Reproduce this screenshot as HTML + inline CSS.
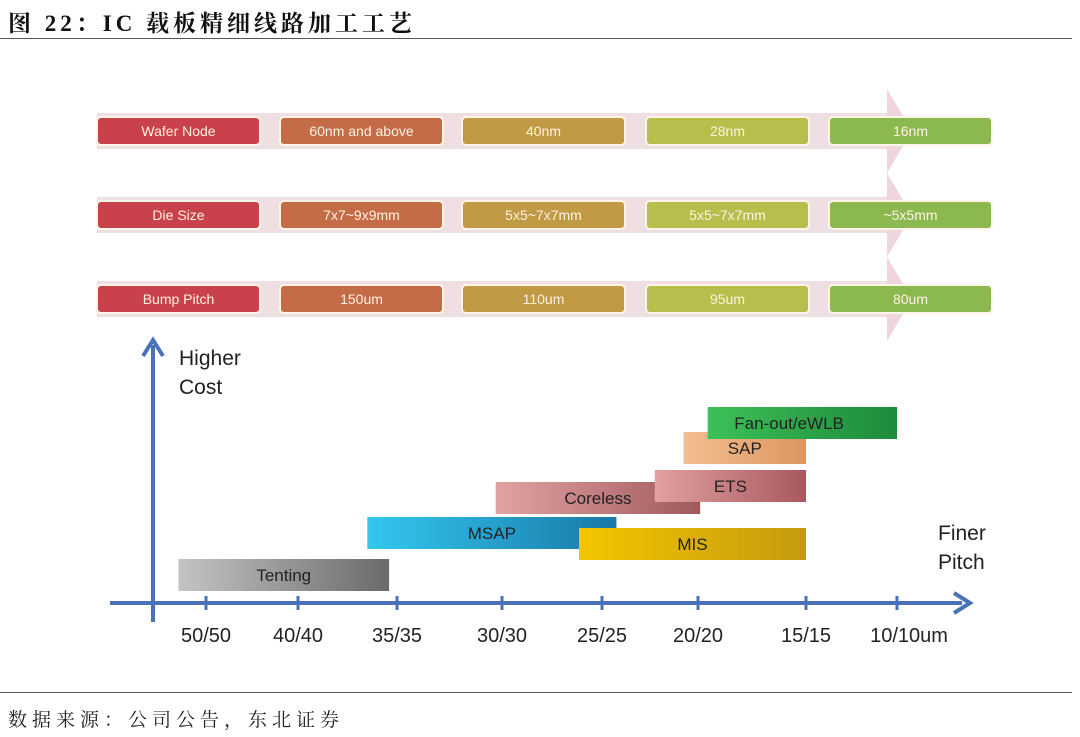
<!DOCTYPE html>
<html><head><meta charset="utf-8"><style>
body{margin:0;width:1080px;height:737px;background:#fff;overflow:hidden;font-family:"Liberation Sans",sans-serif}
.title{position:absolute;left:8px;top:5px;font:bold 23px "Liberation Serif","Noto Serif CJK SC",serif;letter-spacing:4px;color:#111}
.line{position:absolute;left:0;width:1072px;height:1px;background:#555}
.src{position:absolute;left:8px;top:705px;font:19px "Liberation Serif","Noto Serif CJK SC",serif;letter-spacing:5px;color:#222}
</style></head><body>
<div class="title">图 22：IC 载板精细线路加工工艺</div>
<div class="line" style="top:38px"></div>
<svg width="1080" height="737" style="position:absolute;left:0;top:0" id="chart">
<defs>
<linearGradient id="gT"><stop offset="0" stop-color="#c4c4c4"/><stop offset="1" stop-color="#6a6a6a"/></linearGradient>
<linearGradient id="gM"><stop offset="0" stop-color="#33c8ee"/><stop offset="1" stop-color="#1a78a8"/></linearGradient>
<linearGradient id="gC"><stop offset="0" stop-color="#e2a3a3"/><stop offset="1" stop-color="#a0585c"/></linearGradient>
<linearGradient id="gI"><stop offset="0" stop-color="#f5c500"/><stop offset="1" stop-color="#c49a10"/></linearGradient>
<linearGradient id="gE"><stop offset="0" stop-color="#e2a0a0"/><stop offset="1" stop-color="#a8585e"/></linearGradient>
<linearGradient id="gS"><stop offset="0" stop-color="#f3be90"/><stop offset="1" stop-color="#dc9660"/></linearGradient>
<linearGradient id="gF"><stop offset="0" stop-color="#3cc058"/><stop offset="1" stop-color="#1e8a3a"/></linearGradient>
</defs>
</svg>
<div class="line" style="top:692px"></div>
<div class="src">数据来源：公司公告，东北证券</div>
<script>
const rowLabels=["Wafer Node","Die Size","Bump Pitch"];
const rowValues=[["60nm and above","40nm","28nm","16nm"],["7x7~9x9mm","5x5~7x7mm","5x5~7x7mm","~5x5mm"],["150um","110um","95um","80um"]];
const tickLabels=["50/50","40/40","35/35","30/30","25/25","20/20","15/15","10/10um"];
const techNames=["Tenting","MSAP","Coreless","MIS","ETS","SAP","Fan-out/eWLB"];
const techStart=[-0.3,1.7,2.94,3.77,4.55,4.85,5.09];
const techEnd=[1.92,4.15,5.02,6.0,6.0,6.0,7.0];
const techLevel=[0,1.68,3.08,1.24,3.56,5.08,6.08];
const svg=document.getElementById('chart');const NS='http://www.w3.org/2000/svg';
function mk(t,a,txt){const e=document.createElementNS(NS,t);for(const k in a)e.setAttribute(k,a[k]);if(txt!==undefined)e.textContent=txt;svg.appendChild(e);return e;}
const colX=[97,280,462,646,829],colW=163,rowY=[117,201,285],rh=28;
const colColors=["#c9414a","#c46c48","#c09a44","#b8be4c","#8cb850"];
rowY.forEach((y,r)=>{
 let bg=mk('rect',{x:97,y:y-4,width:790,height:rh+8,fill:'#efdfe2'});
 
 
 let ar=mk('polygon',{points:`887,${y-28} 912,${y+14} 887,${y+56}`,fill:'#efd6dc'});
 
 
 for(let c=0;c<5;c++){
  let g=mk('rect',{x:colX[c],y:y,width:colW,height:rh,rx:4,fill:colColors[c],stroke:'#fff4e8','stroke-width':2});
  
  
  let t=mk('text',{x:colX[c]+colW/2,y:y+19,'text-anchor':'middle','font-size':14,fill:'#fff2e0'},c==0?rowLabels[r]:rowValues[r][c-1]);
  
  
 }
});
const tickPx=[206,298,397,502,602,698,806,897];
function xs(v){if(v<=0)return tickPx[0]+v*(tickPx[1]-tickPx[0]);if(v>=7)return tickPx[7]+(v-7)*91;const i=Math.floor(v),f=v-i;return tickPx[i]+f*(tickPx[i+1]-tickPx[i]);}
function ys(l){return 559-l*25;}
const blue='#4a72b8';
let ax=mk('line',{x1:110,y1:603,x2:962,y2:603,stroke:blue,'stroke-width':4});

let ah=mk('polyline',{points:'954,593 970,603 954,613',fill:'none',stroke:blue,'stroke-width':4});

let ay=mk('line',{x1:153,y1:622,x2:153,y2:345,stroke:blue,'stroke-width':4});

let ayh=mk('polyline',{points:'143,356 153,340 163,356',fill:'none',stroke:blue,'stroke-width':4});

tickLabels.forEach((l,i)=>{
 let tk=mk('line',{x1:xs(i),y1:596,x2:xs(i),y2:610,stroke:blue,'stroke-width':3});
 
 let t=mk('text',{x:xs(i)+(i==7?12:0),y:642,'text-anchor':'middle','font-size':20,fill:'#222'},l);
 
});
[["Higher",365],["Cost",394]].forEach(([s,y])=>{let t=mk('text',{x:179,y:y,'font-size':21,fill:'#222'},s);});
[["Finer",540],["Pitch",569]].forEach(([s,y])=>{let t=mk('text',{x:938,y:y,'font-size':21,fill:'#222'},s);});
const grads=['gT','gM','gC','gI','gE','gS','gF'];
const order=[0,1,2,3,4,5,6];
order.forEach(i=>{
 const x1=xs(techStart[i]),x2=xs(techEnd[i]),y=ys(techLevel[i]);
 let b=mk('rect',{x:x1,y:y,width:x2-x1,height:32,fill:`url(#${grads[i]})`});
 
 
 let cx=(x1+x2)/2; if(i==4)cx=x1+(x2-x1)*0.5; if(i==6)cx=x1+(x2-x1)*0.43;
 let t=mk('text',{x:cx,y:y+22,'text-anchor':'middle','font-size':17,fill:'#222'},techNames[i]);
 
});
</script>
</body></html>
